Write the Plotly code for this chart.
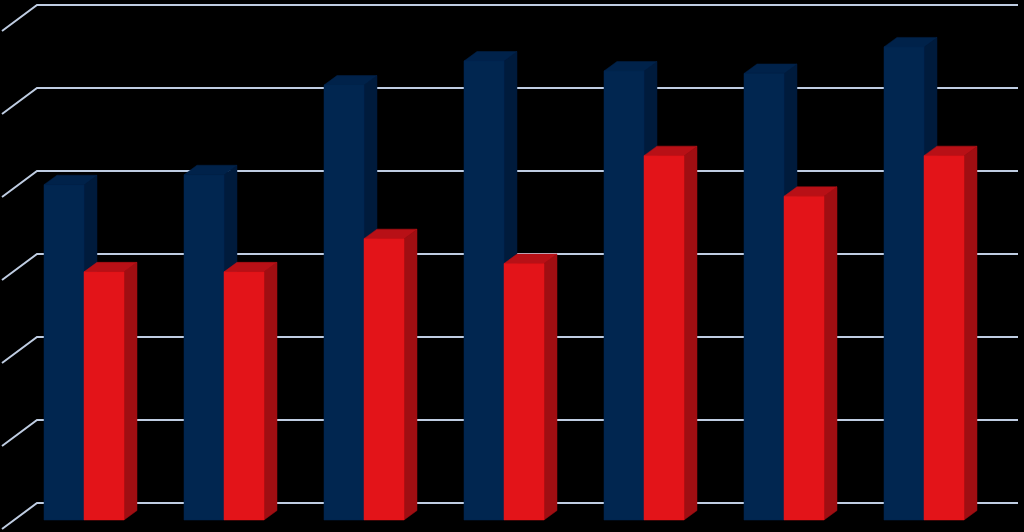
import plotly.graph_objects as go

# data (value units = gridline steps)
categories = ["1", "2", "3", "4", "5", "6", "7"]
blue_values = [4.04, 4.16, 5.24, 5.53, 5.41, 5.38, 5.70]
red_values = [2.99, 2.99, 3.39, 3.09, 4.39, 3.90, 4.39]
grid_ticks = [0, 1, 2, 3, 4, 5, 6]

W, H = 1024, 532
PX_X = 140.0          # pixels per category
PX_Y = 83.0           # pixels per value unit
X0_PX = 84.0          # pixel of first category centre
Y0_PX = 520.0         # pixel of value 0 on the bar front plane

bar_w = 40 / PX_X
dx = 13 / PX_X        # bar depth (x)
dy = 9.5 / PX_Y       # bar depth (y)

# back wall / floor geometry (pixels -> data)
wall_left = (37 - X0_PX) / PX_X
wall_right = (1018 - X0_PX) / PX_X
front_left = (2 - X0_PX) / PX_X
wall_back = 17 / PX_Y
wall_front = -9 / PX_Y

BLUE = dict(front="#012650", side="#001b3c", top="#00224a")
RED = dict(front="#e31419", side="#a00e12", top="#b81016")
GRID = "#bfcde2"

fig = go.Figure()

# gridlines on the back wall plus the left side wall
gx, gy = [], []
for k in grid_ticks:
    gx += [front_left, wall_left, wall_right, None]
    gy += [k + wall_front, k + wall_back, k + wall_back, None]
fig.add_trace(go.Scatter(x=gx, y=gy, mode="lines",
                         line=dict(color=GRID, width=2),
                         hoverinfo="skip", showlegend=False))


def faces(values, offset):
    side_x, side_y, top_x, top_y, fr_x, fr_y = [], [], [], [], [], []
    for i, v in enumerate(values):
        left = i + offset
        right = left + bar_w
        side_x += [right, right, right + dx, right + dx, right, None]
        side_y += [0, v, v + dy, dy, 0, None]
        top_x += [left, right, right + dx, left + dx, left, None]
        top_y += [v, v, v + dy, v + dy, v, None]
        fr_x += [left, right, right, left, left, None]
        fr_y += [0, 0, v, v, 0, None]
    return (side_x, side_y), (top_x, top_y), (fr_x, fr_y)


def add_series(values, offset, colors, name):
    side, top, front = faces(values, offset)
    for (fx, fy), col in ((side, colors["side"]), (top, colors["top"]),
                          (front, colors["front"])):
        fig.add_trace(go.Scatter(x=fx, y=fy, mode="lines", fill="toself",
                                 fillcolor=col, line=dict(width=0.5, color=col),
                                 name=name, hoverinfo="skip", showlegend=False))


add_series(blue_values, -bar_w, BLUE, "Series 1")
add_series(red_values, 0.0, RED, "Series 2")

fig.update_layout(
    width=W, height=H,
    margin=dict(l=0, r=0, t=0, b=0),
    paper_bgcolor="black",
    plot_bgcolor="black",
    xaxis=dict(range=[-X0_PX / PX_X, (W - X0_PX) / PX_X],
               visible=False, fixedrange=True),
    yaxis=dict(range=[(Y0_PX - H) / PX_Y, Y0_PX / PX_Y],
               visible=False, fixedrange=True),
)

fig.write_html("out.html",
               config=dict(displayModeBar=False),
               post_script="document.body.style.margin='0';"
                           "document.body.style.background='black';")
